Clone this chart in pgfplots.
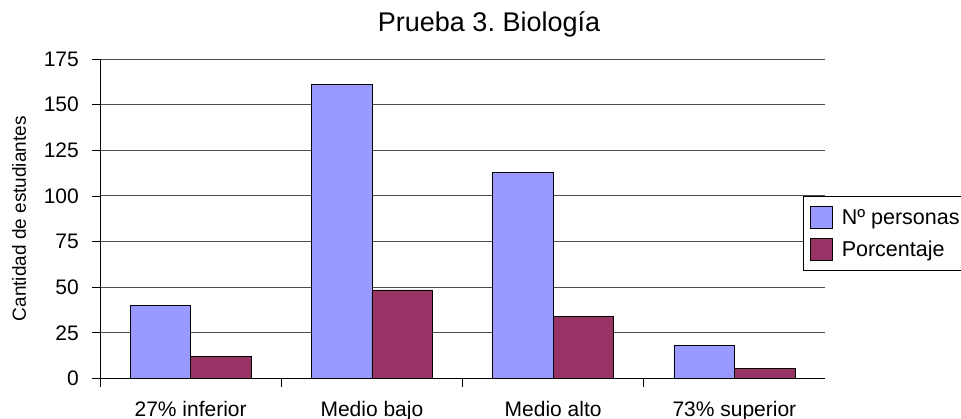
\documentclass[border=0pt]{standalone}
\usepackage{pgfplots}
\pgfplotsset{compat=1.18}
\usepackage{fontspec}
\setmainfont{Liberation Sans}
\frenchspacing
\definecolor{personas}{HTML}{9999FF}
\definecolor{porcentaje}{HTML}{993366}
\begin{document}
\begin{tikzpicture}
\path[use as bounding box] (0,0) rectangle (961bp,419bp);
\begin{axis}[
    at={(100bp,40.5bp)}, anchor=south west,
    scale only axis, width=725bp, height=319.5bp,
    /pgf/number format/assume math mode=true,
    ybar=0pt, bar width=60.5bp,
    xmin=-0.5, xmax=3.5, ymin=0, ymax=175,
    axis lines*=left,
    axis line style={-, black, line width=1bp},
    tick align=outside,
    major tick length=8bp,
    tick style={black, line width=0.8bp},
    ytick={0,25,...,175},
    xtick={-0.5,0.5,1.5,2.5},
    xticklabels={},
    extra x ticks={0,1,2,3},
    extra x tick labels={27\% inferior, Medio bajo, Medio alto, 73\% superior},
    extra x tick style={major tick length=0pt,
        tick label style={anchor=base, yshift=-38bp}},
    ymajorgrids,
    major grid style={black!70, line width=0.9bp},
    tick label style={font=\fontsize{21bp}{25bp}\selectfont},
    yticklabel style={anchor=east, inner sep=0pt, xshift=-13bp},
    title={Prueba 3. Biología},
    title style={at={(axis description cs:0.5366,1)}, anchor=base,
        yshift=22bp, font=\fontsize{27bp}{32bp}\selectfont},
    ylabel={Cantidad de estudiantes},
    ylabel style={at={(axis description cs:-0.1117,0.5)}, anchor=center,
        font=\fontsize{19bp}{23bp}\selectfont},
    legend style={at={(axis description cs:0.9697,0.571)}, anchor=north west,
        draw=black, line width=1bp, fill=white,
        font=\fontsize{21.5bp}{25bp}\selectfont,
        nodes={inner sep=0pt},
        inner xsep=6.5bp, inner ysep=9bp, row sep=10bp,
        /tikz/every odd column/.append style={column sep=9bp}},
    legend cell align=left,
    legend image code/.code={\draw[#1] (0bp,-3bp) rectangle (22bp,19bp);},
]
\addplot[fill=personas, draw=black, line width=0.75bp] coordinates {
    (0,40) (1,161) (2,113) (3,18)
};
\addlegendentry{\smash{Nº personas}}
\addplot[fill=porcentaje, draw=black, line width=0.75bp] coordinates {
    (0,12.05) (1,48.5) (2,34.04) (3,5.42)
};
\addlegendentry{\smash{Porcentaje}}
\end{axis}
\end{tikzpicture}
\end{document}
